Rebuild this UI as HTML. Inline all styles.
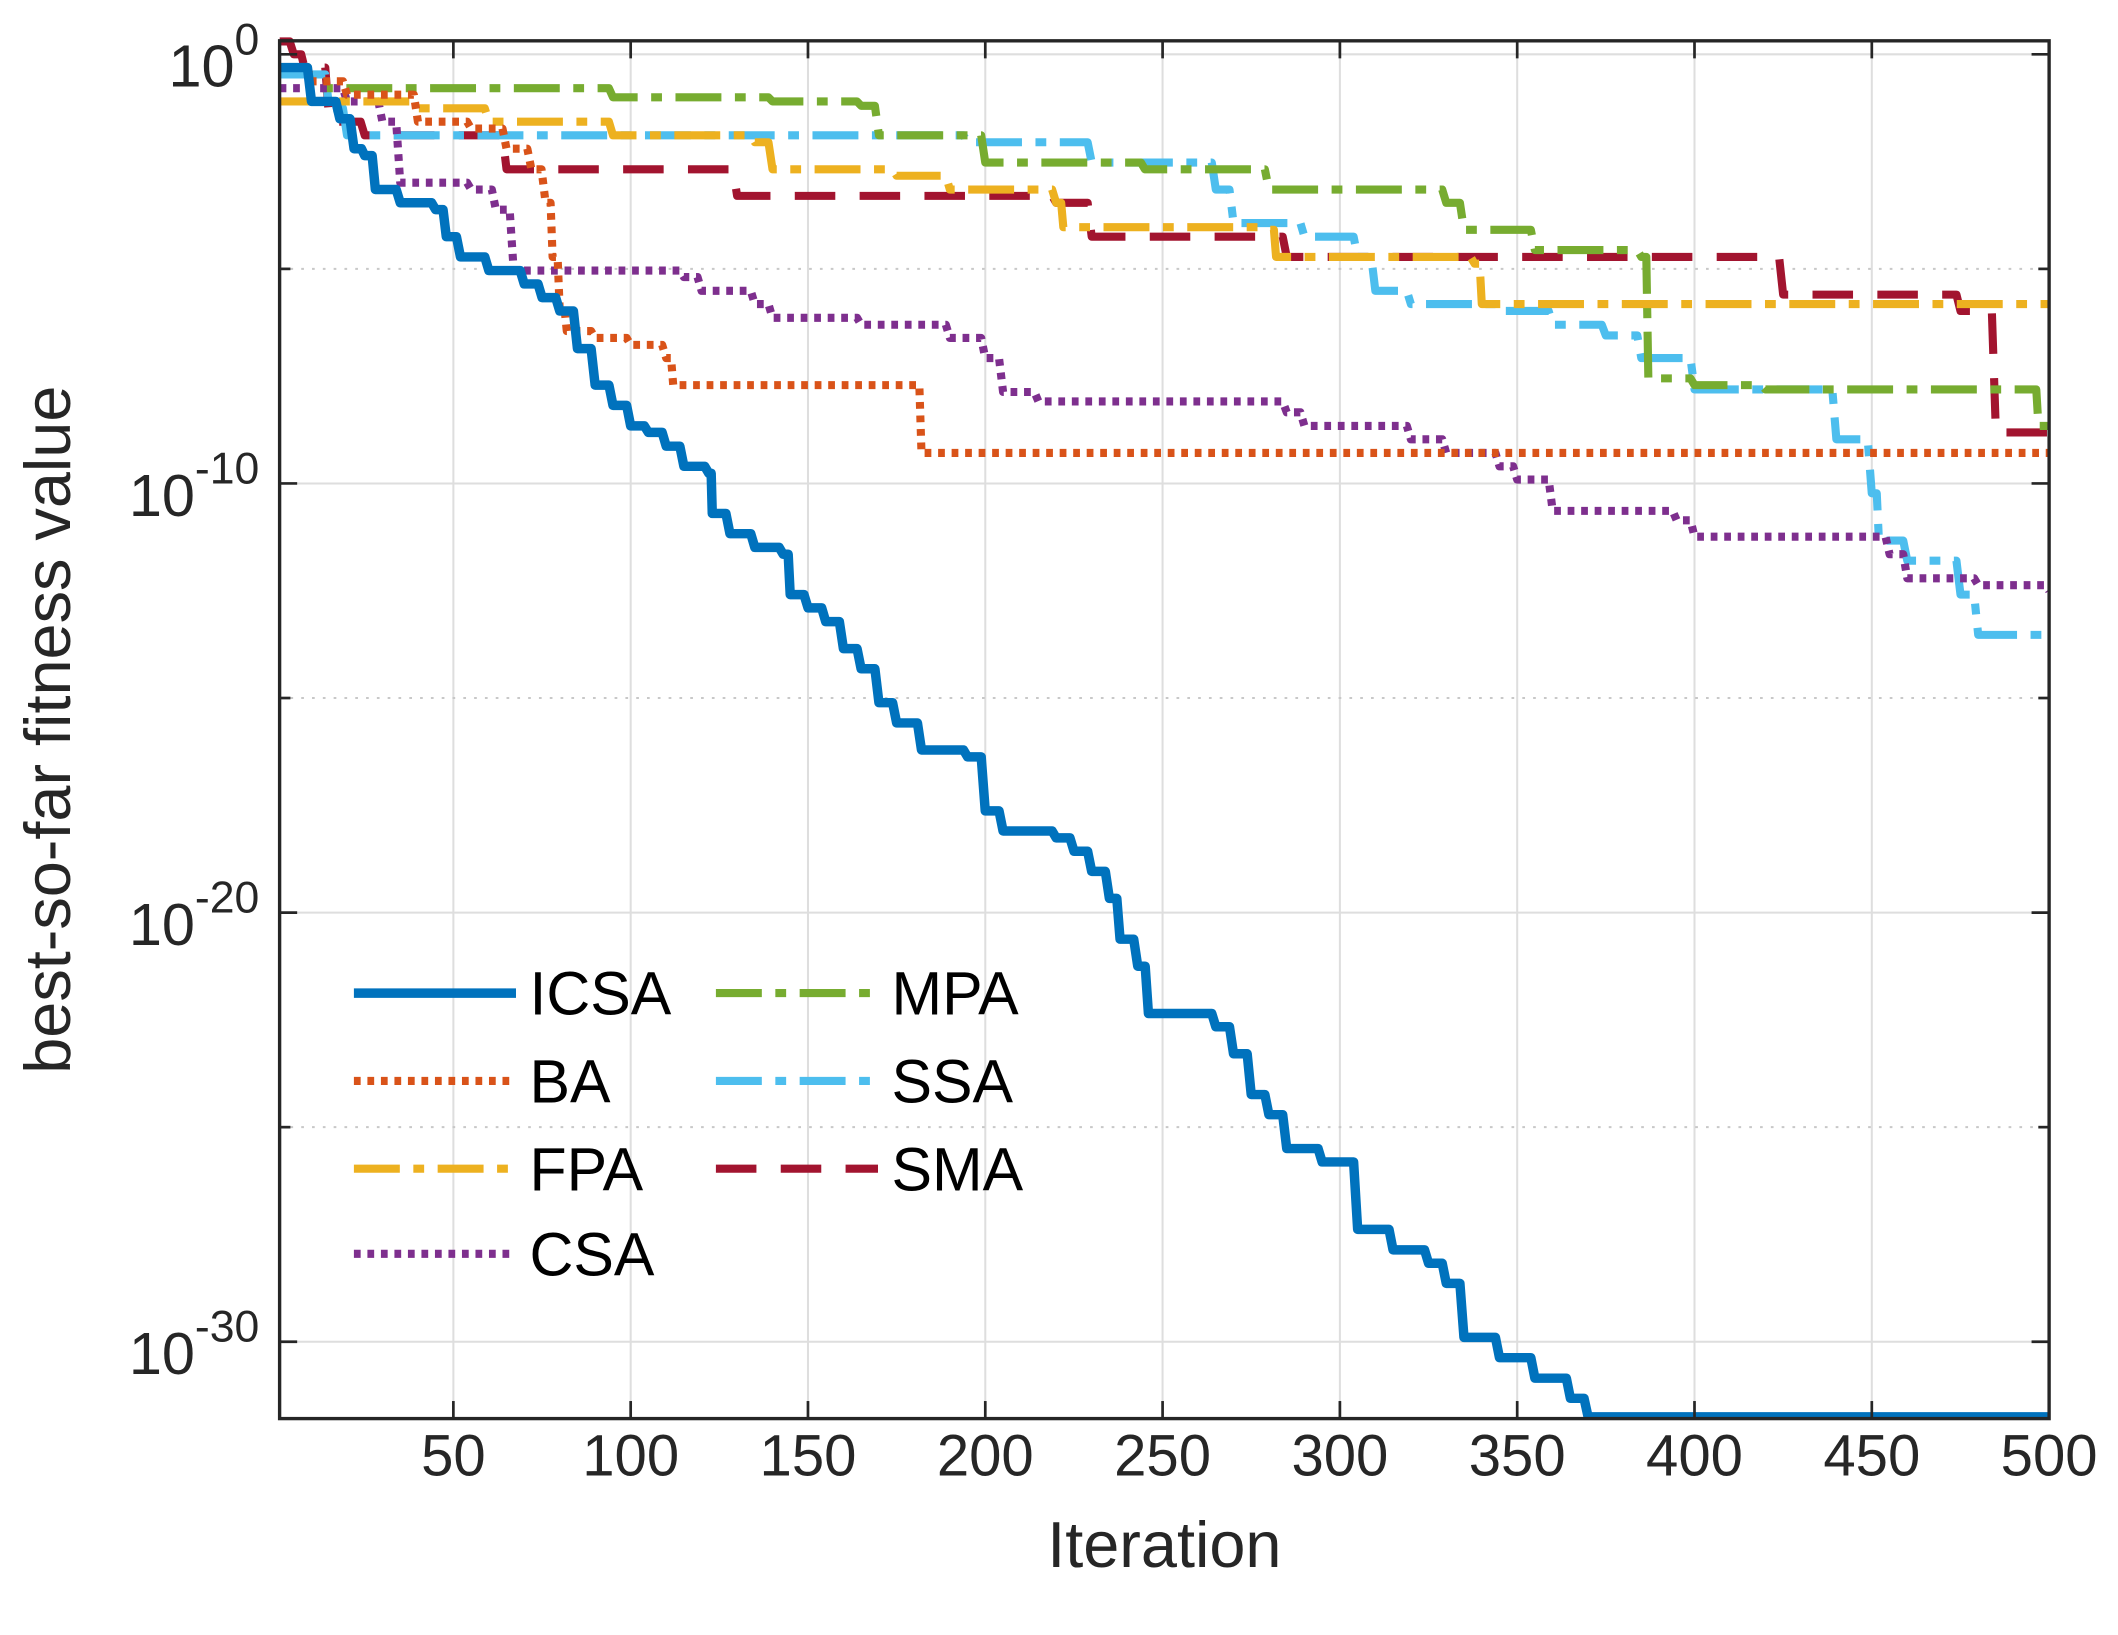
<!DOCTYPE html>
<html><head><meta charset="utf-8"><style>
html,body{margin:0;padding:0;background:#fff;}
svg{display:block;font-family:"Liberation Sans",Arial,sans-serif;}
</style></head><body>
<svg id="chart" width="2118" height="1635" viewBox="0 0 1568 1210" xmlns="http://www.w3.org/2000/svg">
<g id="grid"></g>
<g id="series"></g>
<g id="axes"></g>
<text x="862" y="1160" font-size="48" text-anchor="middle" fill="#262626">Iteration</text>
<text transform="translate(52,540) rotate(-90)" font-size="48" text-anchor="middle" fill="#262626">best-so-far fitness value</text>
<g id="legend"></g>
</svg>
<script>
const xTicks=[50,100,150,200,250,300,350,400,450,500];
const yTicks=[0,-10,-20,-30];
const yMinor=[-5,-15,-25];
const names=["ICSA","BA","FPA","CSA","MPA","SSA","SMA"];
const icsaX=[1,10,18,22,25,28,35,45,48,52,60,70,75,80,85,90,95,100,105,110,115,122,123,128,135,143,145,150,155,160,165,170,175,182,195,200,205,220,225,230,235,238,243,246,265,270,275,280,285,295,305,315,325,330,335,345,355,365,370,500];
const icsaY=[-0.31,-1.1,-1.5,-2.2,-2.36,-3.15,-3.46,-3.62,-4.25,-4.72,-5.04,-5.35,-5.67,-5.98,-6.86,-7.71,-8.18,-8.66,-8.81,-9.13,-9.6,-9.76,-10.7,-11.17,-11.49,-11.65,-12.59,-12.9,-13.22,-13.85,-14.32,-15.11,-15.58,-16.21,-16.37,-17.63,-18.1,-18.26,-18.57,-19.04,-19.67,-20.62,-21.25,-22.35,-22.66,-23.29,-24.24,-24.71,-25.5,-25.81,-27.38,-27.86,-28.17,-28.64,-29.9,-30.37,-30.85,-31.32,-31.75,-31.75];
const baX=[1,10,20,40,55,65,72,76,78,80,82,90,100,110,112,180,182,500];
const baY=[-0.31,-0.63,-0.94,-1.57,-1.73,-2.2,-2.68,-3.46,-4.72,-5.98,-6.45,-6.61,-6.77,-7.08,-7.71,-7.71,-9.29,-9.29];
const fpaX=[1,40,60,95,135,140,175,190,220,222,280,282,338,340,500];
const fpaY=[-1.1,-1.26,-1.57,-1.89,-2.05,-2.68,-2.83,-3.15,-3.46,-4.03,-4.09,-4.72,-4.88,-5.82,-5.82];
const csaX=[1,20,30,35,55,62,67,115,120,135,140,165,190,200,205,215,285,290,320,330,345,350,360,395,400,455,460,480,500];
const csaY=[-0.79,-1.1,-1.57,-2.99,-3.15,-3.62,-5.04,-5.19,-5.51,-5.82,-6.14,-6.3,-6.61,-7.08,-7.87,-8.09,-8.34,-8.66,-8.97,-9.29,-9.6,-9.91,-10.64,-10.86,-11.24,-11.65,-12.21,-12.37,-12.5];
const mpaX=[1,10,95,140,165,170,200,245,280,330,335,355,385,387,400,420,495,497,500];
const mpaY=[-0.31,-0.79,-1.0,-1.1,-1.2,-1.89,-2.52,-2.68,-3.15,-3.46,-4.09,-4.56,-4.72,-7.55,-7.71,-7.81,-7.81,-8.66,-8.66];
const ssaX=[1,15,20,165,195,230,265,270,290,305,310,320,345,360,375,385,400,440,450,452,460,475,480,500];
const ssaY=[-0.47,-1.26,-1.89,-1.89,-2.05,-2.52,-3.15,-3.93,-4.25,-4.72,-5.51,-5.82,-5.98,-6.3,-6.55,-7.08,-7.81,-8.97,-10.23,-11.33,-11.8,-12.59,-13.53,-13.6];
const smaX=[1,5,8,15,18,25,50,65,120,130,220,230,285,420,425,475,485,500];
const smaY=[0.3,0,-0.31,-1.57,-1.57,-1.89,-1.89,-2.68,-2.68,-3.3,-3.46,-4.25,-4.72,-4.72,-5.6,-5.98,-8.81,-8.81];

const L=207,R=1517,T=30,B=1050;
const X=v=>L+(v-1)*(R-L)/499;
const Y=e=>40-e*31.77;
const NS="http://www.w3.org/2000/svg";
function mk(tag,attrs,parent){const e=document.createElementNS(NS,tag);for(const k in attrs)e.setAttribute(k,attrs[k]);parent.appendChild(e);return e;}
const grid=document.getElementById('grid'),axes=document.getElementById('axes'),ser=document.getElementById('series'),leg=document.getElementById('legend');
xTicks.forEach(t=>{
  const g=mk('line',{x1:X(t),x2:X(t),y1:T,y2:B,stroke:'#dedede','stroke-width':1.5},grid);
  
  
  const tk=mk('line',{x1:X(t),x2:X(t),y1:B,y2:B-13,stroke:'#262626','stroke-width':2},axes);
  
  
  const tk2=mk('line',{x1:X(t),x2:X(t),y1:T,y2:T+13,stroke:'#262626','stroke-width':2},axes);
  
  
  const lb=mk('text',{x:X(t),y:1092,'font-size':43,'text-anchor':'middle',fill:'#262626'},axes);
  
  
  lb.textContent=t;
});
yTicks.forEach(t=>{
  const g=mk('line',{x1:L,x2:R,y1:Y(t),y2:Y(t),stroke:'#dedede','stroke-width':1.5},grid);
  
  
  const tk=mk('line',{x1:L,x2:L+13,y1:Y(t),y2:Y(t),stroke:'#262626','stroke-width':2},axes);
  
  
  const tk2=mk('line',{x1:R,x2:R-13,y1:Y(t),y2:Y(t),stroke:'#262626','stroke-width':2},axes);
  
  
  const lb=mk('text',{x:192,y:Y(t)+24,'font-size':44,'text-anchor':'end',fill:'#262626'},axes);
  
  
  const b=mk('tspan',{},lb);b.textContent='10';
  const s=mk('tspan',{dy:-24,'font-size':33},lb);s.textContent=String(t);
});
yMinor.forEach(t=>{
  const g=mk('line',{x1:L,x2:R,y1:Y(t),y2:Y(t),stroke:'#c8c8c8','stroke-width':1.5,'stroke-dasharray':'2 6'},grid);
  
  
  const tk=mk('line',{x1:L,x2:L+8,y1:Y(t),y2:Y(t),stroke:'#262626','stroke-width':2},axes);
  
  
  const tk2=mk('line',{x1:R,x2:R-8,y1:Y(t),y2:Y(t),stroke:'#262626','stroke-width':2},axes);
  
  
});
const box=mk('rect',{x:L,y:T,width:R-L,height:B-T,fill:'none',stroke:'#262626','stroke-width':2.5},axes);



const styles={
 ICSA:{c:'#0072bd',w:7,d:'none'},
 BA:{c:'#d95319',w:6,d:'5 5'},
 FPA:{c:'#edb120',w:6,d:'34 10 8 10'},
 CSA:{c:'#7e2f8e',w:6,d:'5 5'},
 MPA:{c:'#77ac30',w:6,d:'34 10 8 10'},
 SSA:{c:'#4dbeee',w:6,d:'34 10 8 10'},
 SMA:{c:'#a2142f',w:6,d:'30 18'}
};
const data={ICSA:[icsaX,icsaY],BA:[baX,baY],FPA:[fpaX,fpaY],CSA:[csaX,csaY],MPA:[mpaX,mpaY],SSA:[ssaX,ssaY],SMA:[smaX,smaY]};
mk('clipPath',{id:'clip'},document.getElementById('chart'));
mk('rect',{x:L,y:T-10,width:R-L,height:B-T+10},document.getElementById('clip'));
ser.setAttribute('clip-path','url(#clip)');
["SMA","SSA","MPA","CSA","FPA","BA","ICSA"].forEach(n=>{
  const [xs,ys]=data[n];const s=styles[n];
  const pts=[];
  xs.forEach((v,i)=>{
    if(i>0){
      const xm=X(v)-Math.min(3,(X(v)-X(xs[i-1]))*0.3);
      pts.push(xm.toFixed(1)+','+Y(ys[i-1]).toFixed(1));
    }
    pts.push(X(v).toFixed(1)+','+Y(ys[i]).toFixed(1));
  });
  const p=mk('polyline',{points:pts.join(' '),fill:'none',stroke:s.c,'stroke-width':s.w,'stroke-dasharray':s.d,'stroke-linejoin':'round'},ser);
  
  
});
const legPos={ICSA:[262,735],BA:[262,800],FPA:[262,865],CSA:[262,928],MPA:[530,735],SSA:[530,800],SMA:[530,865]};
names.forEach(n=>{
  const [x,y]=legPos[n];const s=styles[n];
  const ln=mk('line',{x1:x,x2:x+120,y1:y,y2:y,stroke:s.c,'stroke-width':s.w,'stroke-dasharray':s.d},leg);
  
  
  const t=mk('text',{x:x+130,y:y+16,'font-size':45,fill:'#000'},leg);
  
  
  t.textContent=n;
});
</script>
</body></html>
